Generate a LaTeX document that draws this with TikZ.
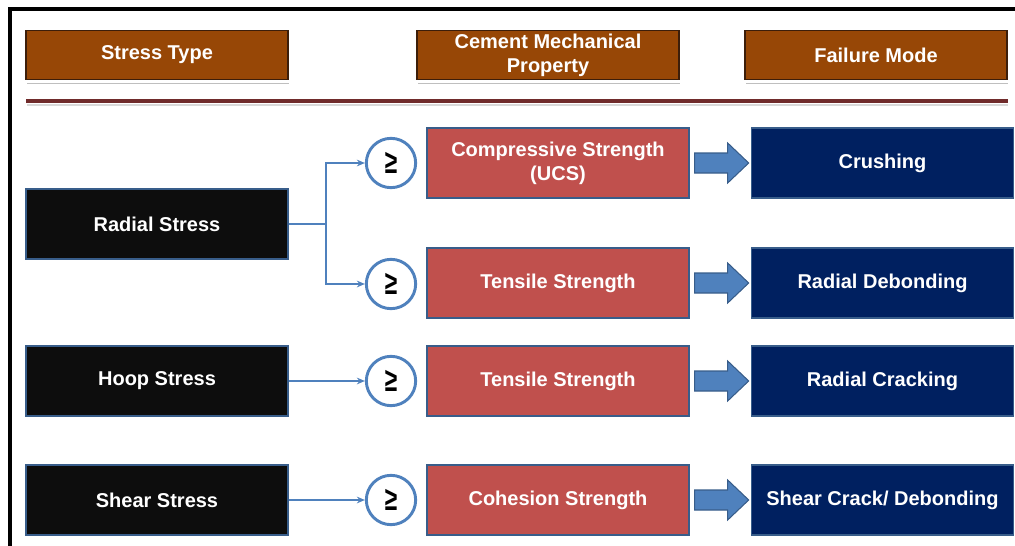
\documentclass[tikz,border=0pt]{standalone}
\usepackage{fontspec}
\setmainfont{Liberation Sans}
\usetikzlibrary{shadows,arrows.meta,calc}
\definecolor{hdrfill}{RGB}{151,71,6}
\definecolor{hdrline}{RGB}{60,30,10}
\definecolor{rulecol}{RGB}{112,43,43}
\definecolor{stressfill}{RGB}{13,13,13}
\definecolor{propfill}{RGB}{192,80,77}
\definecolor{modefill}{RGB}{0,32,96}
\definecolor{edge}{RGB}{56,93,138}
\definecolor{flow}{RGB}{79,129,189}
\newcommand{\geqsign}{\scalebox{0.68}[1]{\bfseries\fontsize{25pt}{25pt}\selectfont ≥}}
\tikzset{
  txt/.style={text=white, font=\bfseries\fontsize{15pt}{18pt}\selectfont, align=center, inner sep=0pt},
  hdr/.style={txt, minimum width=196.5pt, minimum height=36.5pt, fill=hdrfill, draw=hdrline, line width=0.8pt,
    drop shadow={shadow xshift=0.5pt, shadow yshift=-3.5pt, opacity=0.25, fill=black},
    preaction={draw=white, line width=5pt}},
  cell/.style={txt, minimum width=196.5pt, minimum height=52.5pt, draw=edge, line width=1pt},
  stressbox/.style={cell, fill=stressfill},
  propbox/.style={cell, fill=propfill},
  modebox/.style={cell, fill=modefill},
  geq/.style={circle, draw=flow, line width=2.2pt, fill=white, minimum size=37pt, inner sep=0pt},
  link/.style={draw=flow, line width=1.5pt, -{Stealth[length=6pt,width=5pt]}},
  fat/.style={fill=flow, draw=edge, line width=0.8pt},
}
\begin{document}
\begin{tikzpicture}[x=0.75pt,y=-0.75pt]
\useasboundingbox (0,0) rectangle (1015,546);
% outer frame (top and left edges)
\draw[line width=2.4pt] (10,546) -- (10,9) -- (1015,9);

% column headers
\node[hdr] (hs) at (157,55) {Stress Type};
\node[hdr] (hp) at (548,55) {Cement Mechanical\\Property};
\node[hdr] (hf) at (876,55) {Failure Mode};
\fill[black, opacity=0.15] (27,103.5) rectangle (1008,105.5);
\draw[line width=3pt, rulecol] (26,101) -- (1008,101);

% stress types
\node[stressbox] (rad) at (157,224) {Radial Stress};
\node[stressbox] (hoop) at (157,381) {Hoop Stress};
\node[stressbox] (shear) at (157,500) {Shear Stress};

% comparison circles
\node[geq] (c1) at (391,163) {\geqsign};
\node[geq] (c2) at (391,284) {\geqsign};
\node[geq] (c3) at (391,381) {\geqsign};
\node[geq] (c4) at (391,500) {\geqsign};

% cement properties
\node[propbox] (p1) at (558,163) {Compressive Strength\\(UCS)};
\node[propbox] (p2) at (558,283) {Tensile Strength};
\node[propbox] (p3) at (558,381) {Tensile Strength};
\node[propbox] (p4) at (558,500) {Cohesion Strength};

% failure modes
\node[modebox] (m1) at (882.5,163) {Crushing};
\node[modebox] (m2) at (882.5,283) {Radial Debonding};
\node[modebox] (m3) at (882.5,381) {Radial Cracking};
\node[modebox] (m4) at (882.5,500) {Shear Crack/ Debonding};

% connectors
\coordinate (j) at (326,224);
\draw[draw=flow, line width=1.5pt] (rad.east) -- (j);
\draw[link] (j) |- (c1.west);
\draw[link] (j) |- (c2.west);
\draw[link] (hoop.east) -- (c3.west);
\draw[link] (shear.east) -- (c4.west);

% block arrows from property to failure mode
\foreach \i in {1,2,3,4}{
  \path (p\i.east) ++(5,0) coordinate (a0);
  \draw[fat] ($(a0)+(0,-10)$) -- ++(33,0) -- ++(0,-10) -- ($(a0)+(54,0)$)
     -- ($(a0)+(33,20)$) -- ++(0,-10) -- ($(a0)+(0,10)$) -- cycle;
}
\end{tikzpicture}
\end{document}
